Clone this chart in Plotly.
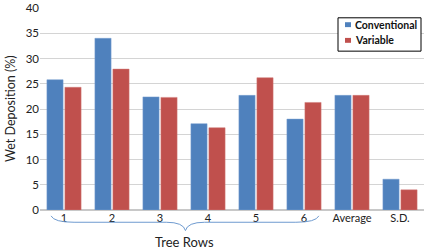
import plotly.graph_objects as go

categories = ["1", "2", "3", "4", "5", "6", "Average", "S.D."]
conventional = [25.8, 34.0, 22.4, 17.1, 22.7, 18.0, 22.7, 6.1]
variable = [24.3, 27.9, 22.3, 16.3, 26.2, 21.3, 22.7, 4.0]
series_names = ["Conventional", "Variable"]
series_colors = ["#4F81BD", "#C0504D"]
y_ticks = [0, 5, 10, 15, 20, 25, 30, 35, 40]

FONT = "Lato"
W, H = 425, 249
ML, MR, MT, MB = 40, 1, 4, 39
PW = W - ML - MR
PH = H - MT - MB

fig = go.Figure()
for name, vals, col, edge in zip(series_names, [conventional, variable], series_colors,
                                 ["#7aa0d0", "#d07a78"]):
    fig.add_trace(go.Bar(name=name, x=categories, y=vals,
                         marker=dict(color=col, line=dict(color=edge, width=0.5))))

n = len(categories)
def cx(i):
    return (i + 0.5) / n
def pxx(pix):  # absolute pixel x -> paper
    return (pix - ML) / PW
def pyy(pix):  # absolute pixel y (from top) -> paper
    return 1 - (pix - MT) / PH

# brace under tree rows 1-6
x0, x1, xm = cx(-0.27), cx(5.31), cx(2.53)
ytop, ymid, ytip = pyy(216), pyy(222.5), pyy(231)
path = (f"M {x0},{ytop} Q {x0+0.008},{ymid} {x0+0.06},{ymid} "
        f"L {xm-0.05},{ymid} Q {xm-0.005},{ymid} {xm},{ytip} "
        f"Q {xm+0.005},{ymid} {xm+0.05},{ymid} "
        f"L {x1-0.06},{ymid} Q {x1-0.008},{ymid} {x1},{ytop}")
fig.add_shape(type="path", path=path, xref="paper", yref="paper",
              line=dict(color="#6f9bd0", width=1))

fig.add_annotation(text="Tree Rows", xref="paper", yref="paper",
                   x=cx(2.5), y=pyy(242.5), showarrow=False,
                   font=dict(family=FONT, size=13, color="#222"), yanchor="middle")
fig.add_annotation(text="Wet Deposition (%)", xref="paper", yref="paper",
                   x=pxx(10), y=0.5, textangle=-90, showarrow=False,
                   xanchor="center", yanchor="middle",
                   font=dict(family=FONT, size=12.5, color="#222"))

# custom legend
fig.add_shape(type="rect", xref="paper", yref="paper",
              x0=pxx(338), x1=pxx(421), y0=pyy(48), y1=pyy(14),
              line=dict(color="black", width=1), fillcolor="white", layer="above")
for k, (name, col) in enumerate(zip(series_names, series_colors)):
    yc = 21 + 16 * k
    fig.add_shape(type="rect", xref="paper", yref="paper",
                  x0=pxx(345), x1=pxx(351), y0=pyy(yc + 2.5), y1=pyy(yc - 2.5),
                  line=dict(width=0), fillcolor=col, layer="above")
    fig.add_annotation(text=f"<b>{name}</b>", xref="paper", yref="paper",
                       x=pxx(353), y=pyy(yc), xanchor="left", yanchor="middle",
                       showarrow=False, font=dict(family=FONT, size=10.5, color="#111"))

fig.update_layout(
    width=W, height=H,
    margin=dict(l=ML, r=MR, t=MT, b=MB),
    paper_bgcolor="white", plot_bgcolor="white",
    barmode="group", bargap=0.25, bargroupgap=0.1,
    font=dict(family=FONT, size=11, color="#222"),
    showlegend=False,
)
fig.update_yaxes(range=[0, 40], tickvals=y_ticks, showgrid=True, gridcolor="#d4d4d4",
                 gridwidth=1, zeroline=True, zerolinecolor="#c8c8c8", showline=False,
                 ticklabeloverflow="allow",
                 tickfont=dict(family=FONT, size=11.5, color="#222"), ticks="")
fig.update_xaxes(showgrid=False, showline=False, ticks="",
                 tickfont=dict(family=FONT, size=11, color="#222"))

fig.write_html("out.html", config={"displayModeBar": False},
               post_script="document.body.style.margin='0';")
